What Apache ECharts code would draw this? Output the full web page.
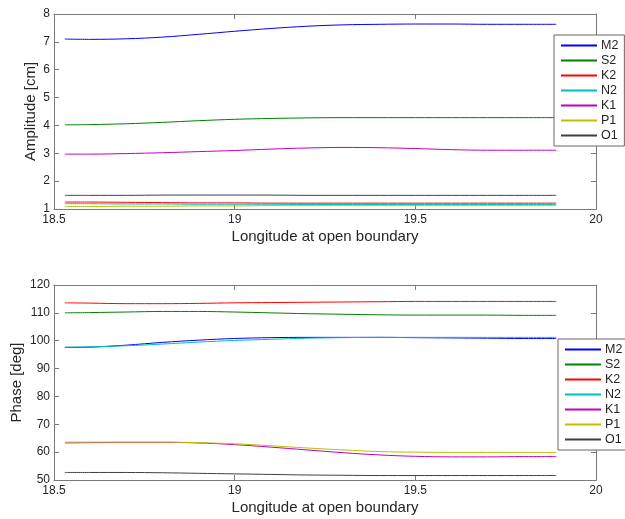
<!DOCTYPE html>
<html>
<head>
<meta charset="utf-8">
<script src="https://cdn.jsdelivr.net/npm/echarts@6/dist/echarts.min.js"></script>
<style>html,body{margin:0;padding:0;background:#fff;}#c{width:625px;height:519px;}</style>
</head>
<body>
<div id="c"></div>
<script>
var lon = [18.53, 18.6, 18.7, 18.8, 18.9, 19.0, 19.1, 19.2, 19.3, 19.4, 19.5, 19.6, 19.7, 19.8, 19.89];
var names = ['M2', 'S2', 'K2', 'N2', 'K1', 'P1', 'O1'];
var colors = ['#0000ff', '#008000', '#ff0000', '#00bfbf', '#bf00bf', '#bfbf00', '#404040'];
var xTicks = [18.5, 19, 19.5, 20];
var ampTicks = [1, 2, 3, 4, 5, 6, 7, 8];
var phaseTicks = [50, 60, 70, 80, 90, 100, 110, 120];

var ampM2 = [7.10, 7.09, 7.11, 7.17, 7.27, 7.38, 7.48, 7.56, 7.61, 7.63, 7.64, 7.64, 7.63, 7.63, 7.63];
var ampS2 = [4.02, 4.03, 4.06, 4.11, 4.17, 4.22, 4.25, 4.27, 4.28, 4.28, 4.28, 4.28, 4.28, 4.28, 4.28];
var ampK2 = [1.25, 1.25, 1.24, 1.23, 1.22, 1.22, 1.21, 1.21, 1.21, 1.21, 1.21, 1.21, 1.21, 1.21, 1.21];
var ampN2 = [1.19, 1.19, 1.18, 1.18, 1.17, 1.17, 1.17, 1.16, 1.16, 1.16, 1.16, 1.16, 1.16, 1.16, 1.16];
var ampK1 = [2.97, 2.97, 2.99, 3.02, 3.06, 3.10, 3.15, 3.19, 3.21, 3.20, 3.17, 3.13, 3.11, 3.11, 3.11];
var ampP1 = [1.09, 1.09, 1.10, 1.10, 1.11, 1.11, 1.12, 1.12, 1.12, 1.12, 1.12, 1.12, 1.12, 1.12, 1.12];
var ampO1 = [1.49, 1.49, 1.49, 1.50, 1.50, 1.50, 1.50, 1.49, 1.49, 1.49, 1.49, 1.49, 1.49, 1.49, 1.49];

var phM2 = [97.6, 97.7, 98.4, 99.4, 100.2, 100.8, 101.1, 101.2, 101.2, 101.2, 101.1, 101.0, 100.9, 100.8, 100.8];
var phS2 = [110.0, 110.1, 110.3, 110.5, 110.5, 110.3, 110.0, 109.7, 109.5, 109.3, 109.2, 109.2, 109.2, 109.1, 109.1];
var phK2 = [113.6, 113.5, 113.3, 113.3, 113.4, 113.6, 113.7, 113.8, 113.9, 114.0, 114.1, 114.1, 114.1, 114.1, 114.1];
var phN2 = [97.7, 97.8, 98.2, 98.8, 99.5, 100.1, 100.5, 100.9, 101.1, 101.2, 101.2, 101.2, 101.2, 101.2, 101.2];
var phK1 = [63.3, 63.4, 63.5, 63.5, 63.3, 62.7, 61.8, 60.8, 59.8, 59.0, 58.5, 58.3, 58.3, 58.4, 58.4];
var phP1 = [63.6, 63.6, 63.6, 63.6, 63.4, 63.0, 62.3, 61.5, 60.8, 60.2, 60.0, 59.9, 59.9, 59.9, 59.9];
var phO1 = [52.7, 52.7, 52.7, 52.6, 52.4, 52.2, 52.0, 51.8, 51.7, 51.6, 51.6, 51.6, 51.6, 51.6, 51.6];

var ampAll = [ampM2, ampS2, ampK2, ampN2, ampK1, ampP1, ampO1];
var phAll = [phM2, phS2, phK2, phN2, phK1, phP1, phO1];

var FONT = '"Liberation Sans", Arial, sans-serif';
var AX = '#7a7a7a';
var TXT = '#262626';

function pairs(ys) { return lon.map(function (x, i) { return [x, ys[i]]; }); }

function xAxisDef(gi, pos, showLabel, name) {
  return {
    type: 'value', gridIndex: gi, position: pos,
    min: xTicks[0], max: xTicks[xTicks.length - 1], interval: 0.5,
    name: name || '', nameLocation: 'middle', nameGap: 20, nameMoveOverlap: false,
    nameTextStyle: { fontFamily: FONT, fontSize: 15, color: TXT },
    axisLine: { show: true, onZero: false, lineStyle: { color: AX, width: 1 } },
    axisTick: { show: true, inside: true, length: 5, lineStyle: { color: AX } },
    axisLabel: { show: showLabel, fontFamily: FONT, fontSize: 12, color: TXT, margin: 5 },
    splitLine: { show: false }
  };
}
function yAxisDef(gi, pos, showLabel, ticks, name, gap) {
  return {
    type: 'value', gridIndex: gi, position: pos,
    min: ticks[0], max: ticks[ticks.length - 1], interval: ticks[1] - ticks[0],
    name: name || '', nameLocation: 'middle', nameGap: gap || 20, nameRotate: 90, nameMoveOverlap: false,
    nameTextStyle: { fontFamily: FONT, fontSize: 15, color: TXT },
    axisLine: { show: true, onZero: false, lineStyle: { color: AX, width: 1 } },
    axisTick: { show: true, inside: true, length: 5, lineStyle: { color: AX } },
    axisLabel: { show: showLabel, fontFamily: FONT, fontSize: 12, color: TXT, margin: 4 },
    splitLine: { show: false }
  };
}

var series = [];
names.forEach(function (n, i) {
  series.push({
    name: n, type: 'line', xAxisIndex: 0, yAxisIndex: 0,
    data: pairs(ampAll[i]), smooth: 0.35, showSymbol: false, symbol: 'none',
    lineStyle: { color: colors[i], width: 1 }, itemStyle: { color: colors[i] }, animation: false
  });
});
names.forEach(function (n, i) {
  series.push({
    name: n, type: 'line', xAxisIndex: 2, yAxisIndex: 2,
    data: pairs(phAll[i]), smooth: 0.35, showSymbol: false, symbol: 'none',
    lineStyle: { color: colors[i], width: 1 }, itemStyle: { color: colors[i] }, animation: false
  });
});

function legendDef(left, top) {
  return {
    orient: 'vertical', left: left, top: top,
    data: names, icon: 'rect', itemWidth: 36, itemHeight: 2, itemGap: 0,
    backgroundColor: '#fff', borderColor: '#666', borderWidth: 1,
    padding: [3, 6, 3, 7],
    textStyle: { fontFamily: FONT, fontSize: 12.5, color: TXT, lineHeight: 15, padding: [0, 0, 0, -1] },
    selectedMode: false
  };
}

var option = {
  animation: false,
  backgroundColor: '#fff',
  grid: [
    { left: 54, right: 29, top: 14, height: 195, outerBoundsMode: 'none', containLabel: false },
    { left: 54, right: 29, top: 285, height: 195, outerBoundsMode: 'none', containLabel: false }
  ],
  xAxis: [
    xAxisDef(0, 'bottom', true, 'Longitude at open boundary'),
    xAxisDef(0, 'top', false),
    xAxisDef(1, 'bottom', true, 'Longitude at open boundary'),
    xAxisDef(1, 'top', false)
  ],
  yAxis: [
    yAxisDef(0, 'left', true, ampTicks, 'Amplitude [cm]', 15.5),
    yAxisDef(0, 'right', false, ampTicks),
    yAxisDef(1, 'left', true, phaseTicks, 'Phase [deg]', 29.5),
    yAxisDef(1, 'right', false, phaseTicks)
  ],
  legend: [legendDef(554, 35), legendDef(558, 339)],
  series: series
};

var chart = echarts.init(document.getElementById('c'), null, { renderer: 'canvas' });
chart.setOption(option);
</script>
</body>
</html>
